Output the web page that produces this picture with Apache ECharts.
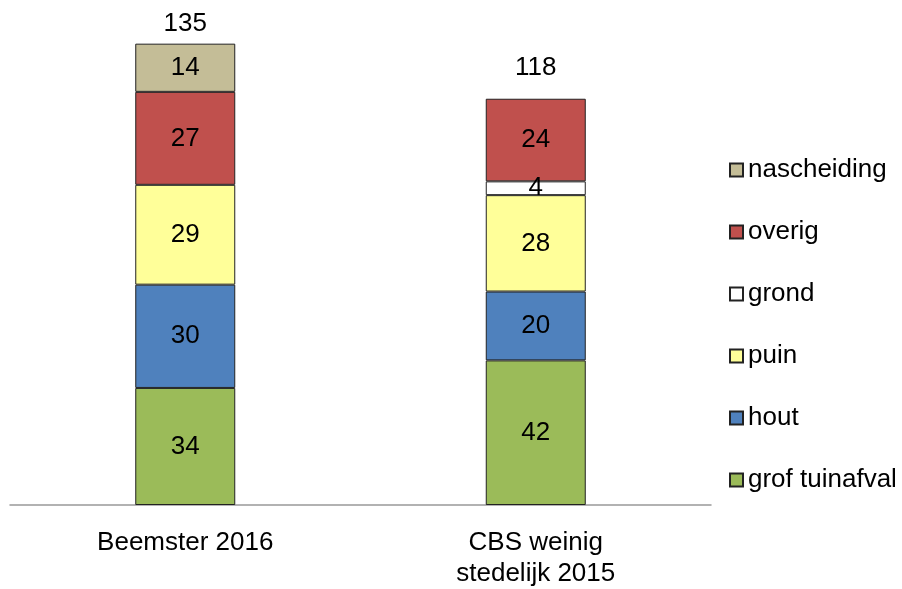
<!DOCTYPE html>
<html>
<head>
<meta charset="utf-8">
<style>
    html, body { margin: 0; padding: 0; background: #fff; }
    #chart { width: 902px; height: 589px; }
</style>
<script src="https://cdn.jsdelivr.net/npm/echarts@6/dist/echarts.min.js"></script>
</head>
<body>
<div id="chart"></div>
<script>
// categorieen en waarden
var categories = ['Beemster 2016', 'CBS weinig\nstedelijk 2015'];
var grofTuinafval = [34, 42];
var hout = [30, 20];
var puin = [29, 28];
var grond = [null, 4];
var overig = [27, 24];
var nascheiding = [14, null];
var totals = [135, 118];

(function () {
    let myEchart = echarts.init(document.getElementById('chart'));
    var font = 'Liberation Sans, Arial, sans-serif';

    function bar(name, data, color) {
        return {
            name: name,
            type: 'bar',
            stack: 'totaal',
            barWidth: 100,
            data: data,
            itemStyle: {
                color: color,
                borderColor: '#222',
                borderWidth: 1
            },
            label: {
                show: true,
                position: 'inside',
                color: '#000',
                fontSize: 26,
                fontFamily: font
            }
        };
    }

    let option = {
        animation: false,
        grid: {
            left: 10,
            right: 191,
            top: 23,
            bottom: 76
        },
        legend: {
            orient: 'vertical',
            left: 724,
            top: 152,
            icon: 'rect',
            itemWidth: 13,
            itemHeight: 13,
            itemGap: 36,
            textStyle: {
                fontSize: 26,
                color: '#000',
                fontFamily: font
            },
            // van boven naar beneden
            data: ['nascheiding', 'overig', 'grond', 'puin', 'hout', 'grof tuinafval']
        },
        xAxis: {
            type: 'category',
            data: categories,
            axisTick: { show: false },
            axisLine: {
                lineStyle: { color: '#999', width: 1.5 }
            },
            axisLabel: {
                color: '#000',
                fontSize: 26,
                fontFamily: font,
                lineHeight: 31,
                margin: 22
            }
        },
        yAxis: {
            type: 'value',
            min: 0,
            max: 140,
            show: false,
            splitLine: { show: false }
        },
        series: [
            bar('grof tuinafval', grofTuinafval, '#9BBB59'),
            bar('hout', hout, '#4F81BD'),
            bar('puin', puin, '#FFFF99'),
            bar('grond', grond, '#FFFFFF'),
            bar('overig', overig, '#C0504D'),
            bar('nascheiding', nascheiding, '#C4BD97'),
            {
                // totalen boven de staaf
                name: 'totaal',
                type: 'bar',
                stack: 'totaal',
                barWidth: 100,
                data: [
                    { value: 0, label: { distance: 7 } },
                    { value: 0, label: { distance: 18 } }
                ],
                itemStyle: { color: 'transparent' },
                label: {
                    show: true,
                    position: 'top',
                    color: '#000',
                    fontSize: 26,
                    fontFamily: font,
                    formatter: function (p) {
                        return totals[p.dataIndex];
                    }
                }
            }
        ]
    };
    myEchart.setOption(option);
    window.addEventListener('resize', function () {
        myEchart.resize();
    })
})();
</script>
</body>
</html>
